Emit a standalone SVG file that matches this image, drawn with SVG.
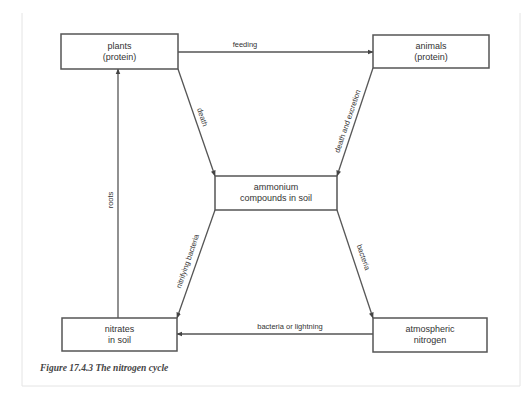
<svg xmlns="http://www.w3.org/2000/svg" width="529" height="396" viewBox="0 0 529 396">
<style>
.box{fill:#fff;stroke:#555;stroke-width:1.5}
.t{font-family:"Liberation Sans",Arial,sans-serif;font-size:9px;fill:#333;text-anchor:middle}
.l{font-family:"Liberation Sans",Arial,sans-serif;font-size:7.5px;fill:#333;text-anchor:middle}
.c{stroke:#555;stroke-width:1.3;fill:none;marker-end:url(#a)}
.cap{font-family:"Liberation Serif","Times New Roman",serif;font-style:italic;font-weight:bold;font-size:9.5px;fill:#444}
</style>
<defs>
<marker id="a" viewBox="0 0 10 10" refX="9" refY="5" markerWidth="6" markerHeight="6" orient="auto" markerUnits="userSpaceOnUse">
<path d="M0,1 L10,5 L0,9 z" fill="#444"/>
</marker>
</defs>
<rect width="529" height="396" fill="#fff"/>
<path d="M22,13 V386 H520 V13" fill="none" stroke="#e4e4e4" stroke-width="1"/>
<g id="connectors">
<line class="c" x1="178" y1="52" x2="373" y2="52"/>
<text class="l" x="245" y="47">feeding</text>
<line class="c" x1="178" y1="69" x2="215" y2="176"/>
<text class="l" transform="translate(200,118) rotate(71)">death</text>
<line class="c" x1="373" y1="68" x2="337" y2="176"/>
<text class="l" transform="translate(350,122) rotate(-71)">death and excretion</text>
<line class="c" x1="215" y1="210" x2="177" y2="318"/>
<text class="l" transform="translate(190,262) rotate(-71)">nitrifying bacteria</text>
<line class="c" x1="337" y1="210" x2="373" y2="318"/>
<text class="l" transform="translate(361,258) rotate(71)">bacteria</text>
<line class="c" x1="373" y1="334" x2="177" y2="334"/>
<text class="l" x="290" y="329">bacteria or lightning</text>
<line class="c" x1="118" y1="318" x2="118" y2="69"/>
<text class="l" transform="translate(113,200) rotate(-90)">roots</text>
</g>
<g id="plants"><rect class="box" x="61" y="34" width="117" height="35"/><text class="t" x="119.5" y="49">plants</text><text class="t" x="119.5" y="60">(protein)</text></g>
<g id="animals"><rect class="box" x="373" y="35" width="116" height="33"/><text class="t" x="431" y="49">animals</text><text class="t" x="431" y="60">(protein)</text></g>
<g id="ammonium"><rect class="box" x="215" y="176" width="122" height="34"/><text class="t" x="276" y="190">ammonium</text><text class="t" x="276" y="201">compounds in soil</text></g>
<g id="nitrates"><rect class="box" x="62" y="318" width="115" height="33"/><text class="t" x="119.5" y="332">nitrates</text><text class="t" x="119.5" y="343">in soil</text></g>
<g id="atmospheric"><rect class="box" x="373" y="318" width="114" height="34"/><text class="t" x="430" y="332">atmospheric</text><text class="t" x="430" y="343">nitrogen</text></g>
<text class="cap" x="40" y="371">Figure 17.4.3 The nitrogen cycle</text>
</svg>
